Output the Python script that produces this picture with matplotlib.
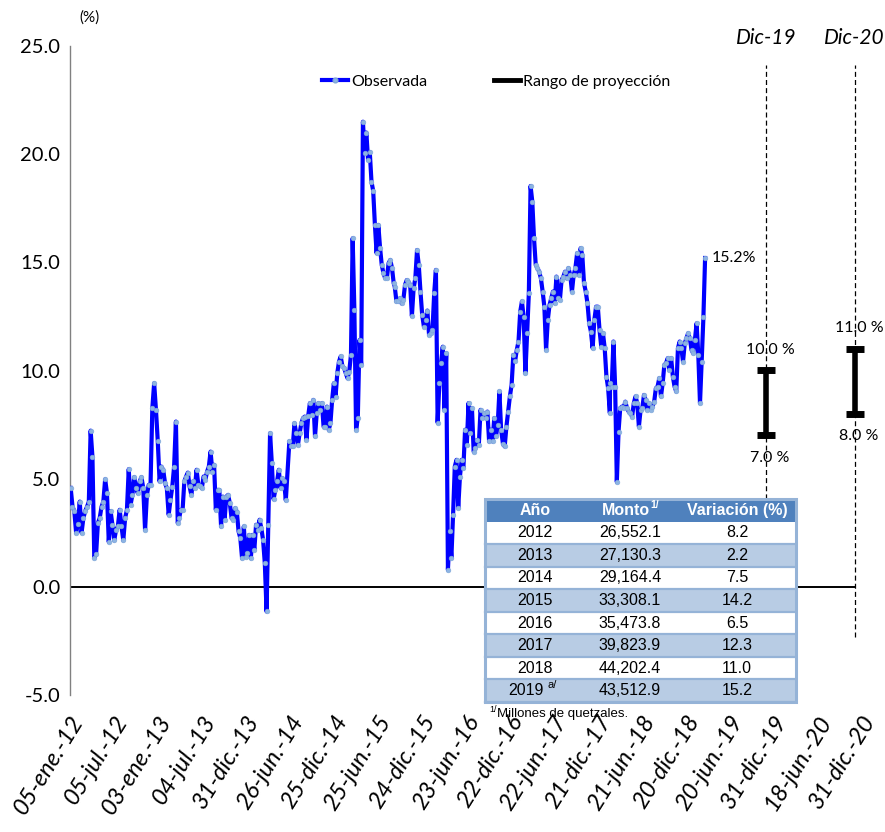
#!/usr/bin/env python3
"""Variación interanual observada (semanal) con rangos de proyección a Dic-19 y Dic-20."""

import numpy as np
import matplotlib
matplotlib.use("Agg")  # headless
import matplotlib.pyplot as plt
from matplotlib.lines import Line2D
from matplotlib.patches import Rectangle
from matplotlib.transforms import ScaledTranslation

# ---- data (%), weekly from 05-ene-12 ------------------------------------
SEG_2012_13 = [4.57, 3.71, 3.5, 2.5, 2.9, 3.94, 2.5, 3.18, 3.5, 3.7, 3.94, 7.22,
               6.0, 1.35, 1.5, 2.95, 3.18, 3.7, 3.94, 4.97, 4.33, 2.07, 3.5, 2.87,
               2.15, 2.63, 2.8, 3.56, 2.8, 2.15, 3.18, 3.56, 5.44, 3.79, 4.25, 5.07,
               4.56, 4.33, 4.87, 5.07, 4.56, 2.63, 4.25, 4.71, 4.71, 8.26, 9.41, 8.18,
               6.72, 4.87, 5.56, 5.4, 4.79, 4.56, 3.33, 4.02, 4.63, 5.56, 7.64, 2.95]
SEG_2013_14 = [3.17, 3.56, 3.56, 4.87, 5.1, 5.28, 4.64, 4.25, 4.87, 4.56, 5.41, 4.71,
               4.64, 4.56, 5.1, 4.94, 5.33, 5.56, 6.25, 5.33, 5.64, 3.56, 4.48, 4.48,
               2.79, 4.17, 3.1, 4.17, 4.25, 3.87, 3.17, 3.1, 3.63, 3.48, 2.56, 2.25,
               1.32, 2.79, 1.4, 1.56, 2.4, 1.32, 2.4, 1.71, 2.87, 2.64, 3.1, 2.71,
               2.17, 1.09, -1.14, 2.87, 7.1, 5.71, 4.05, 4.48, 4.87, 5.41, 4.56, 5.02,
               4.87, 4.0]
SEG_2014_15 = [6.72, 6.49, 6.49, 7.56, 7.1, 6.56, 7.1, 7.56, 7.8, 7.87, 6.79, 7.9,
               8.49, 7.95, 8.64, 6.95, 8.03, 8.49, 8.18, 8.49, 7.41, 7.41, 8.33, 7.26,
               7.56, 8.64, 9.41, 8.79, 9.87, 10.41, 10.65, 10.2, 10.12, 9.87, 9.64, 9.95,
               10.72, 16.11, 12.8, 7.26, 7.8, 11.41, 10.26, 21.5, 20.04, 21.0, 19.73, 20.1,
               18.73, 18.3, 16.73, 15.42, 16.73, 15.68, 14.88, 14.5, 14.27, 14.27, 14.96,
               15.11, 14.73, 14.03]
SEG_2015_16 = [13.88, 13.19, 13.19, 13.34, 13.1, 13.26, 13.96, 14.18, 14.1, 13.96, 12.52,
               13.8, 14.26, 15.57, 14.88, 13.65, 12.57, 12.03, 12.33, 12.77, 11.65, 11.72,
               11.88, 13.57, 14.65, 7.59, 9.41, 10.34, 11.1, 8.18, 10.8, 0.79, 2.56, 1.32,
               3.33, 5.56, 5.87, 3.64, 5.1, 5.87, 5.48, 7.26, 6.56, 8.49, 7.1, 8.26, 6.25,
               6.41, 6.79, 6.56, 8.18, 7.8, 8.03, 7.8, 8.1, 6.72, 7.26, 6.72, 7.8, 6.95,
               7.48, 9.03, 7.26]
SEG_2016_18 = [6.6, 6.49, 7.41, 8.1, 8.8, 9.33, 10.72, 10.42, 10.95, 11.34, 12.72, 13.19,
               12.45, 9.87, 11.72, 13.57, 18.53, 17.81, 16.11, 14.88, 14.73, 14.57, 14.26,
               13.65, 12.95, 10.95, 12.34, 13.03, 13.34, 13.65, 13.11, 14.34, 13.34, 13.26,
               14.19, 14.34, 14.57, 14.26, 14.73, 14.42, 13.65, 14.42, 14.73, 15.42, 14.42,
               15.65, 15.34, 14.03, 13.65, 13.11, 12.18, 11.8, 11.03, 12.34, 12.95, 12.95,
               11.87, 11.1, 11.72, 11.03, 9.72, 9.18, 8.03]
SEG_2018_19 = [9.41, 9.26, 11.34, 9.26, 4.85, 7.18, 8.26, 8.33, 8.26, 8.56, 8.26, 8.1,
               8.03, 7.87, 8.49, 8.8, 8.5, 7.41, 8.18, 8.26, 8.87, 8.64, 8.18, 8.49, 8.18,
               8.33, 8.56, 9.18, 9.26, 9.64, 8.8, 9.41, 10.26, 10.34, 10.57, 10.03, 10.57,
               9.72, 9.26, 9.03, 11.03, 11.34, 11.03, 10.41, 11.26, 11.49, 11.72, 11.49,
               10.95, 10.8, 11.42, 12.18, 10.72, 8.49, 10.41, 12.45, 15.2]
SEGMENTS = [SEG_2012_13, SEG_2013_14, SEG_2014_15, SEG_2015_16, SEG_2016_18, SEG_2018_19]
# first / last week (since 05-ene-12) covered by each segment
SEG_WEEKS = [(0.4, 63.7), (64.5, 127.6), (129.7, 191.4),
             (192.0, 254.9), (256.0, 319.2), (319.3, 375.5)]

TICK_LABELS = ["05-ene.-12", "05-jul.-12", "03-ene.-13", "04-jul.-13", "31-dic.-13",
               "26-jun.-14", "25-dic.-14", "25-jun.-15", "24-dic.-15", "23-jun.-16",
               "22-dic.-16", "22-jun.-17", "21-dic.-17", "21-jun.-18", "20-dic.-18",
               "20-jun.-19", "31-dic.-19", "18-jun.-20", "31-dic.-20"]
TICK_STEP = 26                          # weeks between labels

PROJ_NAMES = ["Dic-19", "Dic-20"]
PROJ_WEEKS = [411.5, 464.0]
PROJ_LOW = [7.0, 8.0]
PROJ_HIGH = [10.0, 11.0]

TABLE_YEARS = ["2012", "2013", "2014", "2015", "2016", "2017", "2018", "2019"]
TABLE_MONTO = ["26,552.1", "27,130.3", "29,164.4", "33,308.1", "35,473.8",
               "39,823.9", "44,202.4", "43,512.9"]
TABLE_VAR = ["8.2", "2.2", "7.5", "14.2", "6.5", "12.3", "11.0", "15.2"]

FONT = ["Lato", "DejaVu Sans"]
TFONT = ["Liberation Sans", "DejaVu Sans"]
BLUE = "#0000FF"
MARK = "#8DB4E2"

plt.rcParams["font.family"] = FONT

W, H = 885, 832
fig = plt.figure(figsize=(W / 100, H / 100), dpi=100)
ax = fig.add_axes([70 / W, 1 - 695 / H, 800 / W, 649 / H])

x = np.concatenate([np.linspace(a, b, len(seg)) for (a, b), seg in zip(SEG_WEEKS, SEGMENTS)])
y = np.concatenate(SEGMENTS)
ax.plot(x, y, color=BLUE, lw=3, marker="o", ms=3.4, mfc=MARK,
        mec="#7EA6D8", mew=0.4, zorder=3)

# zero line acting as the category axis
ax.hlines(0, 0, PROJ_WEEKS[-1], color="black", lw=1.4, zorder=2)

# projection ranges
ax.vlines(PROJ_WEEKS, -2.3, 24.1, colors="black", linestyles=(0, (4, 2.5)), lw=0.9)
mid = [(lo + hi) / 2 for lo, hi in zip(PROJ_LOW, PROJ_HIGH)]
half = [(hi - lo) / 2 for lo, hi in zip(PROJ_LOW, PROJ_HIGH)]
ax.errorbar(PROJ_WEEKS, mid, yerr=half, fmt="none", ecolor="black",
            elinewidth=4, capsize=6.5, capthick=5, zorder=4)
for wk, lo, hi, name in zip(PROJ_WEEKS, PROJ_LOW, PROJ_HIGH, PROJ_NAMES):
    ax.annotate(f"{hi:.1f} %", (wk, hi), xytext=(3, 15), textcoords="offset points",
                ha="center", va="center", fontsize=11.5)
    ax.annotate(f"{lo:.1f} %", (wk, lo), xytext=(3, -16), textcoords="offset points",
                ha="center", va="center", fontsize=11.5)
    ax.text(wk, 25.35, name, ha="center", va="center", fontsize=15,
            style="italic", clip_on=False)

ax.annotate(f"{y[-1]:.1f}%", (x[-1], y[-1]), xytext=(5, 0),
            textcoords="offset points", ha="left", va="center", fontsize=11.5)

ax.set_xlim(0, 473)
ax.set_ylim(-5, 25)
ax.set_yticks(np.arange(-5, 26, 5))
ax.set_yticklabels([f"{v:.1f}" for v in np.arange(-5, 26, 5)], fontsize=14.5)
ax.set_xticks(np.arange(len(TICK_LABELS)) * TICK_STEP)
ax.set_xticklabels(TICK_LABELS, rotation=58, ha="right", rotation_mode="anchor",
                   fontsize=17, style="italic")
shift = ScaledTranslation(-14 / 72, 0, fig.dpi_scale_trans)
for lab in ax.get_xticklabels():
    lab.set_transform(lab.get_transform() + shift)
ax.tick_params(axis="both", length=0)
ax.tick_params(axis="y", pad=7)
ax.tick_params(axis="x", pad=12)
for side in ("top", "right", "bottom"):
    ax.spines[side].set_visible(False)
ax.spines["left"].set_color("#808080")
ax.spines["left"].set_linewidth(1.0)

fig.text(89 / W, 1 - 18 / H, "(%)", ha="center", va="center", fontsize=11)

handles = [Line2D([], [], color=BLUE, lw=3, marker="o", ms=3.4, mfc=MARK, mec="#7EA6D8"),
           Line2D([], [], color="black", lw=3.5)]
fig.legend(handles, ["Observada", "Rango de proyección"], loc="center left",
           bbox_to_anchor=(308 / W, 1 - 82 / H), ncol=2, frameon=False, fontsize=11.5,
           handlelength=1.6, handletextpad=0.2, columnspacing=4.2)

# ---- inset table ----------------------------------------------------------
tab = fig.add_axes([485 / W, 1 - 702 / H, 311 / W, 203 / H])
tab.set_xlim(0, 1)
tab.set_ylim(0, 9)
tab.axis("off")
border = "#95B3D7"
tab.add_patch(Rectangle((0, 8), 1, 1, color="#4F81BD", lw=0))
for i in range(len(TABLE_YEARS)):
    y0 = 7 - i
    tab.add_patch(Rectangle((0, y0), 1, 1, color="#B8CCE4" if i % 2 else "white", lw=0))
    tab.plot([0, 1], [y0, y0], color=border, lw=1.6, clip_on=False)
    yc = y0 + 0.5
    if i == len(TABLE_YEARS) - 1:
        tab.text(0.19, yc, TABLE_YEARS[i], ha="right", va="center", fontsize=11.5,
                 family=TFONT)
        tab.text(0.20, yc + 0.25, "a/", ha="left", va="center", fontsize=8,
                 family=TFONT)
    else:
        tab.text(0.16, yc, TABLE_YEARS[i], ha="center", va="center", fontsize=11.5,
                 family=TFONT)
    tab.text(0.466, yc, TABLE_MONTO[i], ha="center", va="center", fontsize=11.5,
             family=TFONT)
    tab.text(0.81, yc, TABLE_VAR[i], ha="center", va="center", fontsize=11.5,
             family=TFONT)
tab.add_patch(Rectangle((0, 0), 1, 9, fill=False, ec=border, lw=2.2, clip_on=False))
for label, xc in (("Año", 0.16), ("Variación (%)", 0.81)):
    tab.text(xc, 8.5, label, ha="center", va="center", fontsize=11.5,
             fontweight="bold", color="white", family=TFONT)
tab.text(0.53, 8.5, "Monto", ha="right", va="center", fontsize=11.5,
         fontweight="bold", color="white", family=TFONT)
tab.text(0.533, 8.75, "1/", ha="left", va="center", fontsize=7.5,
         fontweight="bold", color="white", family=TFONT)

fig.text(489 / W, 1 - 709 / H, "1/", ha="left", va="center", fontsize=6.5, family=TFONT)
fig.text(497 / W, 1 - 714 / H, "Millones de quetzales.", ha="left", va="center",
         fontsize=9.5, family=TFONT)

fig.savefig("out.png", dpi=100)
